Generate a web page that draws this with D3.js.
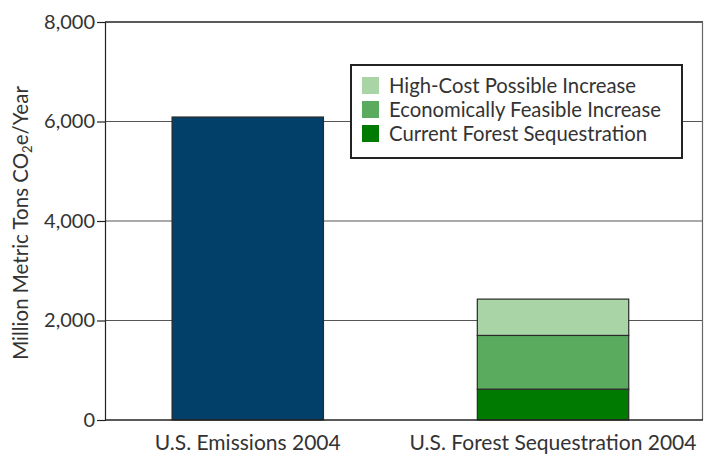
<!DOCTYPE html>
<html><head><meta charset="utf-8">
<script src="https://cdn.jsdelivr.net/npm/d3@7"></script>
<style>body{margin:0;background:#fff}svg{display:block}text{font-family:Lato,"Noto Sans",sans-serif;fill:#333}</style>
</head><body>
<script>
const categories = ["U.S. Emissions 2004", "U.S. Forest Sequestration 2004"];
const emissionsValues = [6090, 0];
const currentSequestration = [0, 620];
const economicIncrease = [0, 1080];
const highCostIncrease = [0, 730];
const seriesNames = ["Current Forest Sequestration", "Economically Feasible Increase", "High-Cost Possible Increase"];
const seriesColors = ["#007a00", "#5aab5e", "#a8d4a6"];
const yTicks = [0, 2000, 4000, 6000, 8000];

const W = 704, H = 459;
const m = {left: 105, right: 1, top: 22, bottom: 39};
const svg = d3.select("body").append("svg").attr("width", W).attr("height", H);
const x = d3.scaleBand().domain(categories).range([m.left, W - m.right]).paddingInner(0.504).paddingOuter(0.2315).align(0.4745);
const y = d3.scaleLinear().domain([0, 8000]).range([H - m.bottom, m.top]);

// gridlines
svg.append("g").selectAll("line").data(yTicks.filter(d => d > 0)).join("line")
  .attr("x1", m.left).attr("x2", W - m.right).attr("y1", d => y(d)).attr("y2", d => y(d))
  .attr("stroke", d => d === 8000 ? "#222" : "#555").attr("stroke-width", d => d === 8000 ? 1.5 : 1.2);
// right border
svg.append("line").attr("x1", W - m.right - 0.5).attr("x2", W - m.right - 0.5).attr("y1", y(8000)).attr("y2", y(0)).attr("stroke", "#666").attr("stroke-width", 1.2);

// emissions bar
const bw = x.bandwidth();
svg.append("g").selectAll("rect").data(categories.map((c, i) => ({c, v: emissionsValues[i]})).filter(d => d.v > 0)).join("rect")
  .attr("x", d => x(d.c)).attr("width", bw).attr("y", d => y(d.v)).attr("height", d => y(0) - y(d.v))
  .attr("fill", "#02406a").attr("stroke", "#2a2a2a").attr("stroke-width", 1.2);

// stacked bar
const rows = categories.map((c, i) => ({c, a: currentSequestration[i], b: economicIncrease[i], h: highCostIncrease[i]}));
const stack = d3.stack().keys(["a", "b", "h"])(rows);
stack.forEach((s, si) => {
  svg.append("g").selectAll("rect").data(s.filter(d => d[1] > d[0])).join("rect")
    .attr("x", d => x(d.data.c)).attr("width", bw)
    .attr("y", d => y(d[1])).attr("height", d => y(d[0]) - y(d[1]))
    .attr("fill", seriesColors[si]).attr("stroke", "#2a2a2a").attr("stroke-width", 1.2);
});

// y axis
const yAxis = svg.append("g").attr("transform", `translate(${m.left},0)`)
  .call(d3.axisLeft(y).tickValues(yTicks).tickFormat(d3.format(",")).tickSize(8).tickPadding(2));
yAxis.select(".domain").attr("stroke", "#222").attr("stroke-width", 1.2);
yAxis.selectAll(".tick line").attr("stroke", "#222").attr("stroke-width", 1.2);
yAxis.selectAll("text").attr("font-size", 20).attr("fill", "#333").style("font-family", "Lato");

// x axis baseline
svg.append("line").attr("x1", m.left).attr("x2", W - m.right).attr("y1", y(0)).attr("y2", y(0)).attr("stroke", "#222").attr("stroke-width", 1.4);

// x labels
svg.append("g").selectAll("text").data(categories).join("text")
  .attr("x", d => Math.min(x(d) + bw / 2, 561)).attr("y", 450)
  .attr("text-anchor", "middle").attr("font-size", 21).text(d => d);

// y label
const yl = svg.append("text").attr("transform", "translate(28,223) rotate(-90)").attr("text-anchor", "middle").attr("font-size", 20.5);
yl.append("tspan").text("Million Metric Tons CO");
yl.append("tspan").attr("font-size", 13).attr("dy", 4).text("2");
yl.append("tspan").attr("dy", -4).text("e/Year");

// legend
const lg = svg.append("g");
lg.append("rect").attr("x", 351).attr("y", 65).attr("width", 331).attr("height", 93).attr("fill", "#fff").attr("stroke", "#222").attr("stroke-width", 2);
const legendOrder = [2, 1, 0];
legendOrder.forEach((si, i) => {
  lg.append("rect").attr("x", 362).attr("y", 77 + i * 24).attr("width", 17).attr("height", 17).attr("fill", seriesColors[si]);
  lg.append("text").attr("x", 389).attr("y", 93 + i * 24).attr("font-size", 20.3).text(seriesNames[si]);
});
</script>
</body></html>
